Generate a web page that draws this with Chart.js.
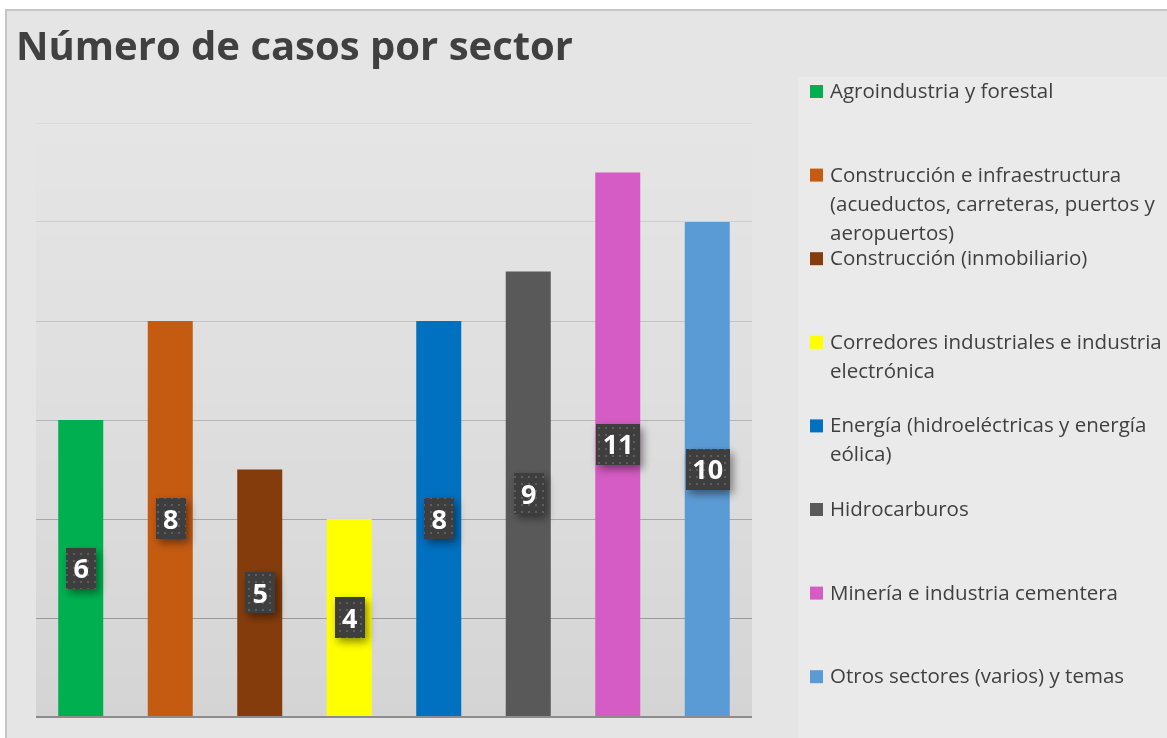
<!DOCTYPE html>
<html>
<head>
<meta charset="utf-8">
<script src="https://cdn.jsdelivr.net/npm/chart.js"></script>
<style>
  html, body { margin: 0; padding: 0; background: #ffffff; }
  #frame { position: absolute; left: 5px; top: 9px; width: 1160px; height: 727px;
           border-left: 2px solid #c6c6c6; border-top: 2px solid #c6c6c6; background: #e5e5e5; }
  canvas { display: block; }
</style>
</head>
<body>
<div id="frame"><canvas id="Sector_Chart" width="1160" height="727"></canvas></div>
<script>
const sector_labels = [
    'Agroindustria y forestal',
    'Construcción e infraestructura (acueductos, carreteras, puertos y aeropuertos)',
    'Construcción (inmobiliario)',
    'Corredores industriales e industria electrónica',
    'Energía (hidroeléctricas y energía eólica)',
    'Hidrocarburos',
    'Minería e industria cementera',
    'Otros sectores (varios) y temas'
]
const legend_lines = [
    ['Agroindustria y forestal'],
    ['Construcción e infraestructura', '(acueductos, carreteras, puertos y', 'aeropuertos)'],
    ['Construcción (inmobiliario)'],
    ['Corredores industriales e industria', 'electrónica'],
    ['Energía (hidroeléctricas y energía', 'eólica)'],
    ['Hidrocarburos'],
    ['Minería e industria cementera'],
    ['Otros sectores (varios) y temas']
]
const sector_cases = [6, 8, 5, 4, 8, 9, 11, 10]
const sector_colors = ['#00b050', '#c55a11', '#843c0c', '#ffff00', '#0070c0', '#595959', '#d55cc4', '#5b9bd5']
const y_ticks = [0, 2, 4, 6, 8, 10, 12]

const text_color = '#404040'

// dotted fill for the value boxes
function dotPattern(ctx) {
    let c = document.createElement('canvas')
    c.width = 7; c.height = 7
    let p = c.getContext('2d')
    p.fillStyle = '#3e3e3e'
    p.fillRect(0, 0, 7, 7)
    p.fillStyle = '#5e5e5e'
    p.fillRect(3, 3, 2, 2)
    return ctx.createPattern(c, 'repeat')
}

const background_plugin = {
    id: 'background_plugin',
    beforeDraw(chart) {
        const {ctx, chartArea} = chart
        ctx.save()
        // lighter legend panel
        ctx.fillStyle = '#eaeaea'
        ctx.fillRect(791, 66, chart.width - 791, chart.height - 66)
        // plot shading
        let g = ctx.createLinearGradient(0, chartArea.top, 0, chartArea.bottom)
        g.addColorStop(0, 'rgba(0,0,0,0)')
        g.addColorStop(0.45, 'rgba(0,0,0,0.025)')
        g.addColorStop(1, 'rgba(0,0,0,0.07)')
        ctx.fillStyle = g
        ctx.fillRect(chartArea.left, chartArea.top, chartArea.right - chartArea.left, chartArea.bottom - chartArea.top)
        ctx.restore()
    }
}

const value_boxes = {
    id: 'value_boxes',
    afterDatasetsDraw(chart) {
        const {ctx} = chart
        const meta = chart.getDatasetMeta(0)
        const pattern = dotPattern(ctx)
        ctx.save()
        meta.data.forEach((bar, i) => {
            const txt = String(sector_cases[i])
            const w = txt.length > 1 ? 44 : 30
            const h = 41
            const cx = bar.x + 0.5
            const cy = (bar.y + bar.base) / 2
            ctx.shadowColor = 'rgba(0,0,0,0.45)'
            ctx.shadowBlur = 9
            ctx.shadowOffsetX = 3
            ctx.shadowOffsetY = 4
            ctx.fillStyle = pattern
            ctx.fillRect(Math.round(cx - w / 2), Math.round(cy - h / 2), w, h)
            ctx.shadowColor = 'rgba(0,0,0,0)'
            ctx.fillStyle = '#ffffff'
            ctx.font = 'bold 27px "Open Sans"'
            ctx.textAlign = 'center'
            ctx.textBaseline = 'alphabetic'
            ctx.fillText(txt, cx, cy + 10)
        })
        ctx.restore()
    }
}

const side_legend = {
    id: 'side_legend',
    afterDraw(chart) {
        const {ctx} = chart
        ctx.save()
        ctx.font = '20.5px "Open Sans"'
        ctx.textAlign = 'left'
        ctx.textBaseline = 'alphabetic'
        legend_lines.forEach((lines, i) => {
            const base = 87 + i * 83.6
            ctx.fillStyle = sector_colors[i]
            ctx.fillRect(803, base - 13, 13, 13)
            ctx.fillStyle = text_color
            lines.forEach((line, j) => ctx.fillText(line, 823, base + j * 29))
        })
        ctx.restore()
    }
}

let sector_document = document.getElementById('Sector_Chart').getContext('2d')

let sector_chart = new Chart(sector_document,
    {type: 'bar',
    data: {
        labels: sector_labels,
        datasets: [{
            label: 'Número de casos',
            data: sector_cases,
            backgroundColor: sector_colors,
            borderWidth: 0,
            barPercentage: 0.503,
            categoryPercentage: 1
            }]
    },
    options: {
        responsive: false,
        animation: false,
        layout: {padding: {left: 9, right: 415, top: 0, bottom: 21}},
        scales: {
            x: {display: false},
            y: {
                min: 0,
                max: 12,
                afterFit: function(scale) { scale.width = 20 },
                afterBuildTicks: function(scale) { scale.ticks = y_ticks.map(v => ({value: v})) },
                ticks: {display: false},
                border: {display: false},
                grid: {
                    drawTicks: false,
                    color: function(c) {
                        let v = c.tick ? c.tick.value : 0
                        if (v === 0) return '#8c8c8c'
                        let shade = Math.round(0x9a + (v - 2) * 6.6)
                        return 'rgb(' + shade + ',' + shade + ',' + shade + ')'
                    },
                    lineWidth: function(c) { return c.tick && c.tick.value === 0 ? 2 : 1 }
                }
            }
        },
        plugins: {
            legend: {display: false},
            tooltip: {enabled: false},
            title: {
                display: true,
                text: 'Número de casos por sector',
                align: 'start',
                color: text_color,
                font: {family: 'Open Sans', size: 40, weight: 'bold', lineHeight: 1.2},
                padding: {top: 14, bottom: 50}
            }
        }
    },
    plugins: [background_plugin, value_boxes, side_legend]
    }
)
</script>
</body>
</html>
